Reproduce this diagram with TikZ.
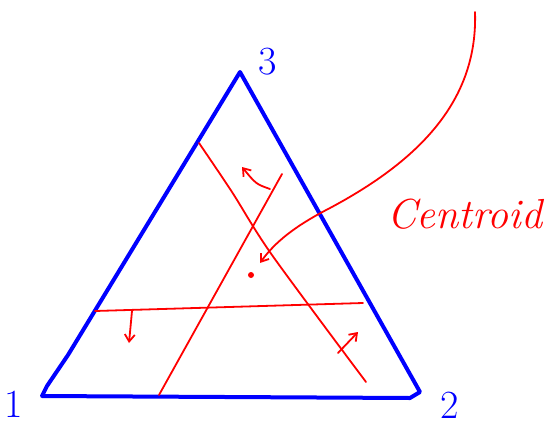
\documentclass[tikz,border=0pt]{standalone}
\usepackage{tikz}
\usetikzlibrary{positioning, arrows.meta, calc}
\usepackage{xcolor}

\begin{document}
\begin{tikzpicture}[x=1pt, y=-1pt,
  tri/.style={draw=blue, line width=4pt, line join=round, line cap=round},
  redline/.style={draw=red, line width=1.8pt, line cap=round, line join=round},
  normal/.style={redline, -{Straight Barb[length=7pt, width=10pt]}},
  lbl/.style={blue, font=\fontsize{40}{44}\selectfont}]
\useasboundingbox (0,0) rectangle (554,426);

% Triangle
\coordinate (V1) at (42, 396);
\coordinate (V2) at (420, 392);
\coordinate (V3) at (240, 72);
\draw[tri] (V1) -- (410, 398) -- (V2) -- (V3) -- (68, 355) -- (47, 386) -- cycle;
\node[lbl] (L1) at (14, 404) {1};
\node[lbl] (L2) at (450, 405) {2};
\node[lbl] (L3) at (268, 62) {3};

% Median lines
\coordinate (Ha) at (95, 311);
\coordinate (Hb) at (363, 303);
\coordinate (Aa) at (159, 395);
\coordinate (Ab) at (282, 174);
\coordinate (Da) at (199, 143);
\coordinate (Db) at (366, 382);
\draw[redline] (Ha) -- (Hb);
\draw[redline] (Aa) -- (Ab);
\draw[redline] plot[smooth, tension=0.5] coordinates {(Da) (232, 192) (272, 255) (Db)};

% Normals
\coordinate (N1a) at (132, 311);
\coordinate (N1b) at (129, 343);
\coordinate (N2a) at (338, 353);
\coordinate (N2b) at (358, 332);
\coordinate (N3a) at (270, 189);
\coordinate (N3b) at (242, 167);
\draw[normal] (N1a) -- (N1b);
\draw[normal] (N2a) -- (N2b);
\draw[normal] (N3a) .. controls (256, 184) .. (N3b);

% Centroid
\node[circle, fill=red, inner sep=0pt, minimum size=6pt] (G) at (251, 275) {};
\coordinate (Top) at (475, 12);
\coordinate (Tip) at (260, 263);
\draw[normal] (Top) .. controls (478, 100) and (420, 160) .. (330, 208)
  .. controls (295, 226) and (275, 242) .. (Tip);
\node[red, anchor=base west, font=\fontsize{42}{46}\selectfont\itshape] (Cname) at (384, 228) {Centroid};
\end{tikzpicture}
\end{document}
